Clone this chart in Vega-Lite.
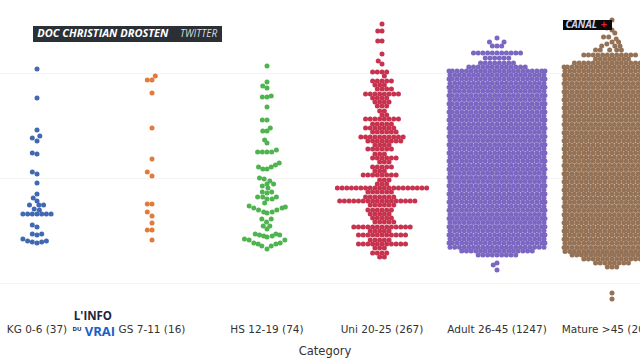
{
"$schema":"https://vega.github.io/schema/vega-lite/v6.json",
"width":640,"height":316,
"autosize":{"type":"none"},
"padding":{"left":0,"top":0,"right":0,"bottom":44},
"background":"white",
"config":{"view":{"stroke":null}},
"layer":[
{
"data":{"values":[
{"cat":"KG 0-6 (37)","v":8.076,"j":[0]},
{"cat":"KG 0-6 (37)","v":7.524,"j":[0]},
{"cat":"KG 0-6 (37)","v":6.914,"j":[0]},
{"cat":"KG 0-6 (37)","v":6.800,"j":[0.6]},
{"cat":"KG 0-6 (37)","v":6.762,"j":[-1]},
{"cat":"KG 0-6 (37)","v":6.705,"j":[0]},
{"cat":"KG 0-6 (37)","v":6.476,"j":[-1]},
{"cat":"KG 0-6 (37)","v":6.457,"j":[0]},
{"cat":"KG 0-6 (37)","v":6.114,"j":[-1]},
{"cat":"KG 0-6 (37)","v":6.076,"j":[0]},
{"cat":"KG 0-6 (37)","v":5.905,"j":[0]},
{"cat":"KG 0-6 (37)","v":5.695,"j":[0]},
{"cat":"KG 0-6 (37)","v":5.619,"j":[-0.8]},
{"cat":"KG 0-6 (37)","v":5.562,"j":[0]},
{"cat":"KG 0-6 (37)","v":5.486,"j":[-1.6,0.4,1.4]},
{"cat":"KG 0-6 (37)","v":5.410,"j":[-0.6]},
{"cat":"KG 0-6 (37)","v":5.390,"j":[0.5]},
{"cat":"KG 0-6 (37)","v":5.314,"j":[-3,-2,-1,0,1,2,3]},
{"cat":"KG 0-6 (37)","v":5.105,"j":[-1]},
{"cat":"KG 0-6 (37)","v":5.067,"j":[0]},
{"cat":"KG 0-6 (37)","v":4.933,"j":[-1,1]},
{"cat":"KG 0-6 (37)","v":4.914,"j":[0]},
{"cat":"KG 0-6 (37)","v":4.838,"j":[-3]},
{"cat":"KG 0-6 (37)","v":4.800,"j":[-2,2]},
{"cat":"KG 0-6 (37)","v":4.781,"j":[-1,1]},
{"cat":"KG 0-6 (37)","v":4.762,"j":[0]},
{"cat":"GS 7-11 (16)","v":7.943,"j":[0.7]},
{"cat":"GS 7-11 (16)","v":7.867,"j":[-1,0]},
{"cat":"GS 7-11 (16)","v":7.619,"j":[0]},
{"cat":"GS 7-11 (16)","v":6.952,"j":[0]},
{"cat":"GS 7-11 (16)","v":6.362,"j":[0]},
{"cat":"GS 7-11 (16)","v":6.114,"j":[-1]},
{"cat":"GS 7-11 (16)","v":6.038,"j":[0]},
{"cat":"GS 7-11 (16)","v":5.505,"j":[-1,0]},
{"cat":"GS 7-11 (16)","v":5.352,"j":[-1]},
{"cat":"GS 7-11 (16)","v":5.276,"j":[0]},
{"cat":"GS 7-11 (16)","v":5.143,"j":[0]},
{"cat":"GS 7-11 (16)","v":5.010,"j":[-1,0]},
{"cat":"GS 7-11 (16)","v":4.819,"j":[0]},
{"cat":"HS 12-19 (74)","v":8.133,"j":[0]},
{"cat":"HS 12-19 (74)","v":7.829,"j":[0]},
{"cat":"HS 12-19 (74)","v":7.752,"j":[-0.9]},
{"cat":"HS 12-19 (74)","v":7.714,"j":[0]},
{"cat":"HS 12-19 (74)","v":7.562,"j":[0.9]},
{"cat":"HS 12-19 (74)","v":7.543,"j":[-1,0]},
{"cat":"HS 12-19 (74)","v":7.352,"j":[0]},
{"cat":"HS 12-19 (74)","v":7.105,"j":[-1,0]},
{"cat":"HS 12-19 (74)","v":6.952,"j":[0.7]},
{"cat":"HS 12-19 (74)","v":6.895,"j":[-0.9,0]},
{"cat":"HS 12-19 (74)","v":6.724,"j":[-0.5]},
{"cat":"HS 12-19 (74)","v":6.667,"j":[0]},
{"cat":"HS 12-19 (74)","v":6.533,"j":[2]},
{"cat":"HS 12-19 (74)","v":6.495,"j":[-2,-1,0,1]},
{"cat":"HS 12-19 (74)","v":6.286,"j":[2.6]},
{"cat":"HS 12-19 (74)","v":6.248,"j":[1.8]},
{"cat":"HS 12-19 (74)","v":6.210,"j":[-1.8,0.9]},
{"cat":"HS 12-19 (74)","v":6.171,"j":[-0.9,0]},
{"cat":"HS 12-19 (74)","v":6.000,"j":[-1.6]},
{"cat":"HS 12-19 (74)","v":5.981,"j":[-0.6]},
{"cat":"HS 12-19 (74)","v":5.943,"j":[0.6]},
{"cat":"HS 12-19 (74)","v":5.886,"j":[0,1.4]},
{"cat":"HS 12-19 (74)","v":5.848,"j":[-1]},
{"cat":"HS 12-19 (74)","v":5.810,"j":[0.2]},
{"cat":"HS 12-19 (74)","v":5.733,"j":[-1,1]},
{"cat":"HS 12-19 (74)","v":5.714,"j":[0]},
{"cat":"HS 12-19 (74)","v":5.638,"j":[-2,-0.9,2]},
{"cat":"HS 12-19 (74)","v":5.600,"j":[0,1.1]},
{"cat":"HS 12-19 (74)","v":5.524,"j":[-0.5]},
{"cat":"HS 12-19 (74)","v":5.467,"j":[-3.8]},
{"cat":"HS 12-19 (74)","v":5.448,"j":[3.9]},
{"cat":"HS 12-19 (74)","v":5.429,"j":[-2.8,3.2]},
{"cat":"HS 12-19 (74)","v":5.390,"j":[-1.8,2.1]},
{"cat":"HS 12-19 (74)","v":5.352,"j":[-0.7,1.1]},
{"cat":"HS 12-19 (74)","v":5.333,"j":[0]},
{"cat":"HS 12-19 (74)","v":5.219,"j":[-1.1,0.9]},
{"cat":"HS 12-19 (74)","v":5.162,"j":[-0.1]},
{"cat":"HS 12-19 (74)","v":5.086,"j":[-0.8,0.6]},
{"cat":"HS 12-19 (74)","v":5.029,"j":[0]},
{"cat":"HS 12-19 (74)","v":4.933,"j":[-2.5,1.9]},
{"cat":"HS 12-19 (74)","v":4.914,"j":[-1.6,2.7]},
{"cat":"HS 12-19 (74)","v":4.895,"j":[-0.7,1.1]},
{"cat":"HS 12-19 (74)","v":4.876,"j":[0]},
{"cat":"HS 12-19 (74)","v":4.838,"j":[-4.8]},
{"cat":"HS 12-19 (74)","v":4.819,"j":[-3.8,3.8]},
{"cat":"HS 12-19 (74)","v":4.762,"j":[-2.8,2.8]},
{"cat":"HS 12-19 (74)","v":4.743,"j":[-1.9,1.9]},
{"cat":"HS 12-19 (74)","v":4.705,"j":[-1.1,0.9]},
{"cat":"HS 12-19 (74)","v":4.648,"j":[0]},
{"cat":"Uni 20-25 (267)","v":8.933,"j":[0]},
{"cat":"Uni 20-25 (267)","v":8.800,"j":[-0.9,0]},
{"cat":"Uni 20-25 (267)","v":8.610,"j":[-0.9,0]},
{"cat":"Uni 20-25 (267)","v":8.362,"j":[0]},
{"cat":"Uni 20-25 (267)","v":8.229,"j":[-0.8]},
{"cat":"Uni 20-25 (267)","v":8.171,"j":[0]},
{"cat":"Uni 20-25 (267)","v":8.019,"j":[-2,-1,0,1]},
{"cat":"Uni 20-25 (267)","v":7.943,"j":[0.5]},
{"cat":"Uni 20-25 (267)","v":7.848,"j":[-2,-1,0,1,2]},
{"cat":"Uni 20-25 (267)","v":7.771,"j":[-1.5,-0.5,0.5]},
{"cat":"Uni 20-25 (267)","v":7.695,"j":[-1,0,1,2]},
{"cat":"Uni 20-25 (267)","v":7.600,"j":[-3.5,-2.5,-1.5,-0.5,0.5,1.5,2.5,3.5]},
{"cat":"Uni 20-25 (267)","v":7.524,"j":[-2,-1,0,1]},
{"cat":"Uni 20-25 (267)","v":7.448,"j":[-1.5,-0.5,0.5,1.5]},
{"cat":"Uni 20-25 (267)","v":7.371,"j":[-1,0,1]},
{"cat":"Uni 20-25 (267)","v":7.276,"j":[-0.5,0.5]},
{"cat":"Uni 20-25 (267)","v":7.200,"j":[0,1]},
{"cat":"Uni 20-25 (267)","v":7.124,"j":[-3.5,-2.5,-1.5,-0.5,0.5,1.5,2.5,3.5]},
{"cat":"Uni 20-25 (267)","v":7.029,"j":[-2,-1,0,1,2]},
{"cat":"Uni 20-25 (267)","v":6.952,"j":[-3.5,-2.5,-1.5,-0.5,0.5,1.5,2.5]},
{"cat":"Uni 20-25 (267)","v":6.876,"j":[-2,-1,0,1,2,3]},
{"cat":"Uni 20-25 (267)","v":6.781,"j":[-4.5,-3.5,-2.5,-1.5,-0.5,0.5,1.5,2.5,3.5,4.5]},
{"cat":"Uni 20-25 (267)","v":6.705,"j":[-3,-2,-1,0,1,2,3,4]},
{"cat":"Uni 20-25 (267)","v":6.629,"j":[-1.5,-0.5,0.5,1.5]},
{"cat":"Uni 20-25 (267)","v":6.552,"j":[-3,-2,-1,0,1,2]},
{"cat":"Uni 20-25 (267)","v":6.457,"j":[-1.5,-0.5,0.5]},
{"cat":"Uni 20-25 (267)","v":6.381,"j":[-2,-1,0,1,2,3]},
{"cat":"Uni 20-25 (267)","v":6.305,"j":[-0.5,0.5,1.5]},
{"cat":"Uni 20-25 (267)","v":6.210,"j":[-2,-1,0,1,2]},
{"cat":"Uni 20-25 (267)","v":6.133,"j":[-1.5,-0.5,0.5]},
{"cat":"Uni 20-25 (267)","v":6.057,"j":[-4,-3,-2,-1,0,1,2,3]},
{"cat":"Uni 20-25 (267)","v":5.962,"j":[-0.5,0.5,1.5]},
{"cat":"Uni 20-25 (267)","v":5.886,"j":[-1,0,1]},
{"cat":"Uni 20-25 (267)","v":5.810,"j":[-9.5,-8.5,-7.5,-6.5,-5.5,-4.5,-3.5,-2.5,-1.5,-0.5,0.5,1.5,2.5,3.5,4.5,5.5,6.5,7.5,8.5,9.5]},
{"cat":"Uni 20-25 (267)","v":5.733,"j":[-3,-2,-1,0,1,2]},
{"cat":"Uni 20-25 (267)","v":5.638,"j":[-3.5,-2.5,-1.5,-0.5,0.5,1.5,2.5]},
{"cat":"Uni 20-25 (267)","v":5.562,"j":[-9,-8,-7,-6,-5,-4,-3,-2,-1,0,1,2,3,4,5,6,7]},
{"cat":"Uni 20-25 (267)","v":5.486,"j":[-2.5,-1.5,-0.5,0.5,1.5,2.5]},
{"cat":"Uni 20-25 (267)","v":5.390,"j":[-3,-2,-1,0,1,2]},
{"cat":"Uni 20-25 (267)","v":5.314,"j":[-2.5,-1.5,-0.5,0.5,1.5]},
{"cat":"Uni 20-25 (267)","v":5.238,"j":[-2,-1,0,1,2]},
{"cat":"Uni 20-25 (267)","v":5.162,"j":[-1.5,-0.5,0.5,1.5,2.5]},
{"cat":"Uni 20-25 (267)","v":5.067,"j":[-6,-5,-4,-3,-2,-1,0,1,2,3,4,5,6]},
{"cat":"Uni 20-25 (267)","v":4.990,"j":[-2.5,-1.5,-0.5,0.5,1.5]},
{"cat":"Uni 20-25 (267)","v":4.914,"j":[-5,-4,-3,-2,-1,0,1,2,3,4,5]},
{"cat":"Uni 20-25 (267)","v":4.819,"j":[-2.5,-1.5,-0.5,0.5,1.5]},
{"cat":"Uni 20-25 (267)","v":4.743,"j":[-5,-4,-3,-2,-1,0,1,2,3,4,5]},
{"cat":"Uni 20-25 (267)","v":4.667,"j":[-1.5,-0.5,0.5]},
{"cat":"Uni 20-25 (267)","v":4.571,"j":[-2,-1,0,1]},
{"cat":"Uni 20-25 (267)","v":4.495,"j":[-0.5,0.5]},
{"cat":"Adult 26-45 (1247)","v":8.667,"j":[0]},
{"cat":"Adult 26-45 (1247)","v":8.590,"j":[-1.6,1.5]},
{"cat":"Adult 26-45 (1247)","v":8.514,"j":[-1,0,1]},
{"cat":"Adult 26-45 (1247)","v":8.381,"j":[-5,-4,-3,-2,-1,0,1,2,3,4,5]},
{"cat":"Adult 26-45 (1247)","v":8.286,"j":[-2.5,-1.5,-0.5,0.5,1.5,2.5]},
{"cat":"Adult 26-45 (1247)","v":8.190,"j":[-3.5,-2.5,-1.5,-0.5,0.5,1.5,2.5,3.5]},
{"cat":"Adult 26-45 (1247)","v":8.114,"j":[-6,-5,-4,-3,-2,-1,0,1,2,3,4,5,6]},
{"cat":"Adult 26-45 (1247)","v":8.038,"j":[-10.2,-9.5,-8.5,-7.5,-6.5,-5.5,-4.5,-3.5,-2.5,-1.5,-0.5,0.5,1.5,2.5,3.5,4.5,5.5,6.5,7.5,8.5,9.5,10.2]},
{"cat":"Adult 26-45 (1247)","v":7.962,"j":[-10,-9,-8,-7,-6,-5,-4,-3,-2,-1,0,1,2,3,4,5,6,7,8,9,10]},
{"cat":"Adult 26-45 (1247)","v":7.884,"j":[-10.2,-9.5,-8.5,-7.5,-6.5,-5.5,-4.5,-3.5,-2.5,-1.5,-0.5,0.5,1.5,2.5,3.5,4.5,5.5,6.5,7.5,8.5,9.5,10.2]},
{"cat":"Adult 26-45 (1247)","v":7.806,"j":[-10,-9,-8,-7,-6,-5,-4,-3,-2,-1,0,1,2,3,4,5,6,7,8,9,10]},
{"cat":"Adult 26-45 (1247)","v":7.728,"j":[-10.2,-9.5,-8.5,-7.5,-6.5,-5.5,-4.5,-3.5,-2.5,-1.5,-0.5,0.5,1.5,2.5,3.5,4.5,5.5,6.5,7.5,8.5,9.5,10.2]},
{"cat":"Adult 26-45 (1247)","v":7.650,"j":[-10,-9,-8,-7,-6,-5,-4,-3,-2,-1,0,1,2,3,4,5,6,7,8,9,10]},
{"cat":"Adult 26-45 (1247)","v":7.572,"j":[-10.2,-9.5,-8.5,-7.5,-6.5,-5.5,-4.5,-3.5,-2.5,-1.5,-0.5,0.5,1.5,2.5,3.5,4.5,5.5,6.5,7.5,8.5,9.5,10.2]},
{"cat":"Adult 26-45 (1247)","v":7.493,"j":[-10,-9,-8,-7,-6,-5,-4,-3,-2,-1,0,1,2,3,4,5,6,7,8,9,10]},
{"cat":"Adult 26-45 (1247)","v":7.415,"j":[-10.2,-9.5,-8.5,-7.5,-6.5,-5.5,-4.5,-3.5,-2.5,-1.5,-0.5,0.5,1.5,2.5,3.5,4.5,5.5,6.5,7.5,8.5,9.5,10.2]},
{"cat":"Adult 26-45 (1247)","v":7.337,"j":[-10,-9,-8,-7,-6,-5,-4,-3,-2,-1,0,1,2,3,4,5,6,7,8,9,10]},
{"cat":"Adult 26-45 (1247)","v":7.259,"j":[-10.2,-9.5,-8.5,-7.5,-6.5,-5.5,-4.5,-3.5,-2.5,-1.5,-0.5,0.5,1.5,2.5,3.5,4.5,5.5,6.5,7.5,8.5,9.5,10.2]},
{"cat":"Adult 26-45 (1247)","v":7.181,"j":[-10,-9,-8,-7,-6,-5,-4,-3,-2,-1,0,1,2,3,4,5,6,7,8,9,10]},
{"cat":"Adult 26-45 (1247)","v":7.103,"j":[-10.2,-9.5,-8.5,-7.5,-6.5,-5.5,-4.5,-3.5,-2.5,-1.5,-0.5,0.5,1.5,2.5,3.5,4.5,5.5,6.5,7.5,8.5,9.5,10.2]},
{"cat":"Adult 26-45 (1247)","v":7.025,"j":[-10,-9,-8,-7,-6,-5,-4,-3,-2,-1,0,1,2,3,4,5,6,7,8,9,10]},
{"cat":"Adult 26-45 (1247)","v":6.947,"j":[-10.2,-9.5,-8.5,-7.5,-6.5,-5.5,-4.5,-3.5,-2.5,-1.5,-0.5,0.5,1.5,2.5,3.5,4.5,5.5,6.5,7.5,8.5,9.5,10.2]},
{"cat":"Adult 26-45 (1247)","v":6.869,"j":[-10,-9,-8,-7,-6,-5,-4,-3,-2,-1,0,1,2,3,4,5,6,7,8,9,10]},
{"cat":"Adult 26-45 (1247)","v":6.790,"j":[-10.2,-9.5,-8.5,-7.5,-6.5,-5.5,-4.5,-3.5,-2.5,-1.5,-0.5,0.5,1.5,2.5,3.5,4.5,5.5,6.5,7.5,8.5,9.5,10.2]},
{"cat":"Adult 26-45 (1247)","v":6.712,"j":[-10,-9,-8,-7,-6,-5,-4,-3,-2,-1,0,1,2,3,4,5,6,7,8,9,10]},
{"cat":"Adult 26-45 (1247)","v":6.634,"j":[-10.2,-9.5,-8.5,-7.5,-6.5,-5.5,-4.5,-3.5,-2.5,-1.5,-0.5,0.5,1.5,2.5,3.5,4.5,5.5,6.5,7.5,8.5,9.5,10.2]},
{"cat":"Adult 26-45 (1247)","v":6.556,"j":[-10,-9,-8,-7,-6,-5,-4,-3,-2,-1,0,1,2,3,4,5,6,7,8,9,10]},
{"cat":"Adult 26-45 (1247)","v":6.478,"j":[-10.2,-9.5,-8.5,-7.5,-6.5,-5.5,-4.5,-3.5,-2.5,-1.5,-0.5,0.5,1.5,2.5,3.5,4.5,5.5,6.5,7.5,8.5,9.5,10.2]},
{"cat":"Adult 26-45 (1247)","v":6.400,"j":[-10,-9,-8,-7,-6,-5,-4,-3,-2,-1,0,1,2,3,4,5,6,7,8,9,10]},
{"cat":"Adult 26-45 (1247)","v":6.322,"j":[-10.2,-9.5,-8.5,-7.5,-6.5,-5.5,-4.5,-3.5,-2.5,-1.5,-0.5,0.5,1.5,2.5,3.5,4.5,5.5,6.5,7.5,8.5,9.5,10.2]},
{"cat":"Adult 26-45 (1247)","v":6.244,"j":[-10,-9,-8,-7,-6,-5,-4,-3,-2,-1,0,1,2,3,4,5,6,7,8,9,10]},
{"cat":"Adult 26-45 (1247)","v":6.166,"j":[-10.2,-9.5,-8.5,-7.5,-6.5,-5.5,-4.5,-3.5,-2.5,-1.5,-0.5,0.5,1.5,2.5,3.5,4.5,5.5,6.5,7.5,8.5,9.5,10.2]},
{"cat":"Adult 26-45 (1247)","v":6.088,"j":[-10,-9,-8,-7,-6,-5,-4,-3,-2,-1,0,1,2,3,4,5,6,7,8,9,10]},
{"cat":"Adult 26-45 (1247)","v":6.009,"j":[-10.2,-9.5,-8.5,-7.5,-6.5,-5.5,-4.5,-3.5,-2.5,-1.5,-0.5,0.5,1.5,2.5,3.5,4.5,5.5,6.5,7.5,8.5,9.5,10.2]},
{"cat":"Adult 26-45 (1247)","v":5.931,"j":[-10,-9,-8,-7,-6,-5,-4,-3,-2,-1,0,1,2,3,4,5,6,7,8,9,10]},
{"cat":"Adult 26-45 (1247)","v":5.853,"j":[-10.2,-9.5,-8.5,-7.5,-6.5,-5.5,-4.5,-3.5,-2.5,-1.5,-0.5,0.5,1.5,2.5,3.5,4.5,5.5,6.5,7.5,8.5,9.5,10.2]},
{"cat":"Adult 26-45 (1247)","v":5.775,"j":[-10,-9,-8,-7,-6,-5,-4,-3,-2,-1,0,1,2,3,4,5,6,7,8,9,10]},
{"cat":"Adult 26-45 (1247)","v":5.697,"j":[-10.2,-9.5,-8.5,-7.5,-6.5,-5.5,-4.5,-3.5,-2.5,-1.5,-0.5,0.5,1.5,2.5,3.5,4.5,5.5,6.5,7.5,8.5,9.5,10.2]},
{"cat":"Adult 26-45 (1247)","v":5.619,"j":[-10,-9,-8,-7,-6,-5,-4,-3,-2,-1,0,1,2,3,4,5,6,7,8,9,10]},
{"cat":"Adult 26-45 (1247)","v":5.541,"j":[-10.2,-9.5,-8.5,-7.5,-6.5,-5.5,-4.5,-3.5,-2.5,-1.5,-0.5,0.5,1.5,2.5,3.5,4.5,5.5,6.5,7.5,8.5,9.5,10.2]},
{"cat":"Adult 26-45 (1247)","v":5.463,"j":[-10,-9,-8,-7,-6,-5,-4,-3,-2,-1,0,1,2,3,4,5,6,7,8,9,10]},
{"cat":"Adult 26-45 (1247)","v":5.385,"j":[-10.2,-9.5,-8.5,-7.5,-6.5,-5.5,-4.5,-3.5,-2.5,-1.5,-0.5,0.5,1.5,2.5,3.5,4.5,5.5,6.5,7.5,8.5,9.5,10.2]},
{"cat":"Adult 26-45 (1247)","v":5.306,"j":[-10,-9,-8,-7,-6,-5,-4,-3,-2,-1,0,1,2,3,4,5,6,7,8,9,10]},
{"cat":"Adult 26-45 (1247)","v":5.228,"j":[-10.2,-9.5,-8.5,-7.5,-6.5,-5.5,-4.5,-3.5,-2.5,-1.5,-0.5,0.5,1.5,2.5,3.5,4.5,5.5,6.5,7.5,8.5,9.5,10.2]},
{"cat":"Adult 26-45 (1247)","v":5.150,"j":[-10,-9,-8,-7,-6,-5,-4,-3,-2,-1,0,1,2,3,4,5,6,7,8,9,10]},
{"cat":"Adult 26-45 (1247)","v":5.072,"j":[-10.2,-9.5,-8.5,-7.5,-6.5,-5.5,-4.5,-3.5,-2.5,-1.5,-0.5,0.5,1.5,2.5,3.5,4.5,5.5,6.5,7.5,8.5,9.5,10.2]},
{"cat":"Adult 26-45 (1247)","v":4.994,"j":[-10,-9,-8,-7,-6,-5,-4,-3,-2,-1,0,1,2,3,4,5,6,7,8,9,10]},
{"cat":"Adult 26-45 (1247)","v":4.916,"j":[-10.2,-9.5,-8.5,-7.5,-6.5,-5.5,-4.5,-3.5,-2.5,-1.5,-0.5,0.5,1.5,2.5,3.5,4.5,5.5,6.5,7.5,8.5,9.5,10.2]},
{"cat":"Adult 26-45 (1247)","v":4.838,"j":[-10,-9,-8,-7,-6,-5,-4,-3,-2,-1,0,1,2,3,4,5,6,7,8,9,10]},
{"cat":"Adult 26-45 (1247)","v":4.760,"j":[-10.2,-9.5,-8.5,-7.5,-6.5,-5.5,-4.5,-3.5,-2.5,-1.5,-0.5,0.5,1.5,2.5,3.5,4.5,5.5,6.5,7.5,8.5,9.5,10.2]},
{"cat":"Adult 26-45 (1247)","v":4.682,"j":[-10,-9,-8,-7,-6,-5,-4,-3,-2,-1,0,1,2,3,4,5,6,7,8,9,10]},
{"cat":"Adult 26-45 (1247)","v":4.610,"j":[-7.5,-6.5,-5.5,-4.5,-3.5,-2.5,-1.5,-0.5,0.5,1.5,2.5,3.5,4.5,5.5,6.5,7.5]},
{"cat":"Adult 26-45 (1247)","v":4.533,"j":[-4,-3,-2,-1,0,1,2,3,4]},
{"cat":"Adult 26-45 (1247)","v":4.381,"j":[0]},
{"cat":"Adult 26-45 (1247)","v":4.343,"j":[-0.8]},
{"cat":"Adult 26-45 (1247)","v":4.248,"j":[0]},
{"cat":"Mature >45 (2071)","v":9.010,"j":[0]},
{"cat":"Mature >45 (2071)","v":8.857,"j":[-1.1]},
{"cat":"Mature >45 (2071)","v":8.819,"j":[0]},
{"cat":"Mature >45 (2071)","v":8.762,"j":[0.6]},
{"cat":"Mature >45 (2071)","v":8.686,"j":[-1.8,-0.7]},
{"cat":"Mature >45 (2071)","v":8.648,"j":[0.9]},
{"cat":"Mature >45 (2071)","v":8.590,"j":[0,1.4]},
{"cat":"Mature >45 (2071)","v":8.552,"j":[-1.1]},
{"cat":"Mature >45 (2071)","v":8.514,"j":[-2.2,0.6,1.7]},
{"cat":"Mature >45 (2071)","v":8.438,"j":[-3.5,-2.5,-0.5,1,2]},
{"cat":"Mature >45 (2071)","v":8.343,"j":[-6,-5,-4,-3,-2,-1,0,1,2,3,4,5]},
{"cat":"Mature >45 (2071)","v":8.267,"j":[-3.5,-2.5,-1.5,-0.5,0.5,1.5,2.5,3.5]},
{"cat":"Mature >45 (2071)","v":8.190,"j":[-8,-7,-6,-5,-4,-3,-2,-1,0,1,2,3,4,5,6,7,8]},
{"cat":"Mature >45 (2071)","v":8.114,"j":[-10.2,-9.5,-8.5,-7.5,-6.5,-5.5,-4.5,-3.5,-2.5,-1.5,-0.5,0.5,1.5,2.5,3.5,4.5,5.5,6.5,7.5,8.5,9.5,10.2]},
{"cat":"Mature >45 (2071)","v":8.036,"j":[-10,-9,-8,-7,-6,-5,-4,-3,-2,-1,0,1,2,3,4,5,6,7,8,9,10]},
{"cat":"Mature >45 (2071)","v":7.958,"j":[-10.2,-9.5,-8.5,-7.5,-6.5,-5.5,-4.5,-3.5,-2.5,-1.5,-0.5,0.5,1.5,2.5,3.5,4.5,5.5,6.5,7.5,8.5,9.5,10.2]},
{"cat":"Mature >45 (2071)","v":7.880,"j":[-10,-9,-8,-7,-6,-5,-4,-3,-2,-1,0,1,2,3,4,5,6,7,8,9,10]},
{"cat":"Mature >45 (2071)","v":7.802,"j":[-10.2,-9.5,-8.5,-7.5,-6.5,-5.5,-4.5,-3.5,-2.5,-1.5,-0.5,0.5,1.5,2.5,3.5,4.5,5.5,6.5,7.5,8.5,9.5,10.2]},
{"cat":"Mature >45 (2071)","v":7.724,"j":[-10,-9,-8,-7,-6,-5,-4,-3,-2,-1,0,1,2,3,4,5,6,7,8,9,10]},
{"cat":"Mature >45 (2071)","v":7.645,"j":[-10.2,-9.5,-8.5,-7.5,-6.5,-5.5,-4.5,-3.5,-2.5,-1.5,-0.5,0.5,1.5,2.5,3.5,4.5,5.5,6.5,7.5,8.5,9.5,10.2]},
{"cat":"Mature >45 (2071)","v":7.567,"j":[-10,-9,-8,-7,-6,-5,-4,-3,-2,-1,0,1,2,3,4,5,6,7,8,9,10]},
{"cat":"Mature >45 (2071)","v":7.489,"j":[-10.2,-9.5,-8.5,-7.5,-6.5,-5.5,-4.5,-3.5,-2.5,-1.5,-0.5,0.5,1.5,2.5,3.5,4.5,5.5,6.5,7.5,8.5,9.5,10.2]},
{"cat":"Mature >45 (2071)","v":7.411,"j":[-10,-9,-8,-7,-6,-5,-4,-3,-2,-1,0,1,2,3,4,5,6,7,8,9,10]},
{"cat":"Mature >45 (2071)","v":7.333,"j":[-10.2,-9.5,-8.5,-7.5,-6.5,-5.5,-4.5,-3.5,-2.5,-1.5,-0.5,0.5,1.5,2.5,3.5,4.5,5.5,6.5,7.5,8.5,9.5,10.2]},
{"cat":"Mature >45 (2071)","v":7.255,"j":[-10,-9,-8,-7,-6,-5,-4,-3,-2,-1,0,1,2,3,4,5,6,7,8,9,10]},
{"cat":"Mature >45 (2071)","v":7.177,"j":[-10.2,-9.5,-8.5,-7.5,-6.5,-5.5,-4.5,-3.5,-2.5,-1.5,-0.5,0.5,1.5,2.5,3.5,4.5,5.5,6.5,7.5,8.5,9.5,10.2]},
{"cat":"Mature >45 (2071)","v":7.099,"j":[-10,-9,-8,-7,-6,-5,-4,-3,-2,-1,0,1,2,3,4,5,6,7,8,9,10]},
{"cat":"Mature >45 (2071)","v":7.021,"j":[-10.2,-9.5,-8.5,-7.5,-6.5,-5.5,-4.5,-3.5,-2.5,-1.5,-0.5,0.5,1.5,2.5,3.5,4.5,5.5,6.5,7.5,8.5,9.5,10.2]},
{"cat":"Mature >45 (2071)","v":6.942,"j":[-10,-9,-8,-7,-6,-5,-4,-3,-2,-1,0,1,2,3,4,5,6,7,8,9,10]},
{"cat":"Mature >45 (2071)","v":6.864,"j":[-10.2,-9.5,-8.5,-7.5,-6.5,-5.5,-4.5,-3.5,-2.5,-1.5,-0.5,0.5,1.5,2.5,3.5,4.5,5.5,6.5,7.5,8.5,9.5,10.2]},
{"cat":"Mature >45 (2071)","v":6.786,"j":[-10,-9,-8,-7,-6,-5,-4,-3,-2,-1,0,1,2,3,4,5,6,7,8,9,10]},
{"cat":"Mature >45 (2071)","v":6.708,"j":[-10.2,-9.5,-8.5,-7.5,-6.5,-5.5,-4.5,-3.5,-2.5,-1.5,-0.5,0.5,1.5,2.5,3.5,4.5,5.5,6.5,7.5,8.5,9.5,10.2]},
{"cat":"Mature >45 (2071)","v":6.630,"j":[-10,-9,-8,-7,-6,-5,-4,-3,-2,-1,0,1,2,3,4,5,6,7,8,9,10]},
{"cat":"Mature >45 (2071)","v":6.552,"j":[-10.2,-9.5,-8.5,-7.5,-6.5,-5.5,-4.5,-3.5,-2.5,-1.5,-0.5,0.5,1.5,2.5,3.5,4.5,5.5,6.5,7.5,8.5,9.5,10.2]},
{"cat":"Mature >45 (2071)","v":6.474,"j":[-10,-9,-8,-7,-6,-5,-4,-3,-2,-1,0,1,2,3,4,5,6,7,8,9,10]},
{"cat":"Mature >45 (2071)","v":6.396,"j":[-10.2,-9.5,-8.5,-7.5,-6.5,-5.5,-4.5,-3.5,-2.5,-1.5,-0.5,0.5,1.5,2.5,3.5,4.5,5.5,6.5,7.5,8.5,9.5,10.2]},
{"cat":"Mature >45 (2071)","v":6.318,"j":[-10,-9,-8,-7,-6,-5,-4,-3,-2,-1,0,1,2,3,4,5,6,7,8,9,10]},
{"cat":"Mature >45 (2071)","v":6.240,"j":[-10.2,-9.5,-8.5,-7.5,-6.5,-5.5,-4.5,-3.5,-2.5,-1.5,-0.5,0.5,1.5,2.5,3.5,4.5,5.5,6.5,7.5,8.5,9.5,10.2]},
{"cat":"Mature >45 (2071)","v":6.161,"j":[-10,-9,-8,-7,-6,-5,-4,-3,-2,-1,0,1,2,3,4,5,6,7,8,9,10]},
{"cat":"Mature >45 (2071)","v":6.083,"j":[-10.2,-9.5,-8.5,-7.5,-6.5,-5.5,-4.5,-3.5,-2.5,-1.5,-0.5,0.5,1.5,2.5,3.5,4.5,5.5,6.5,7.5,8.5,9.5,10.2]},
{"cat":"Mature >45 (2071)","v":6.005,"j":[-10,-9,-8,-7,-6,-5,-4,-3,-2,-1,0,1,2,3,4,5,6,7,8,9,10]},
{"cat":"Mature >45 (2071)","v":5.927,"j":[-10.2,-9.5,-8.5,-7.5,-6.5,-5.5,-4.5,-3.5,-2.5,-1.5,-0.5,0.5,1.5,2.5,3.5,4.5,5.5,6.5,7.5,8.5,9.5,10.2]},
{"cat":"Mature >45 (2071)","v":5.849,"j":[-10,-9,-8,-7,-6,-5,-4,-3,-2,-1,0,1,2,3,4,5,6,7,8,9,10]},
{"cat":"Mature >45 (2071)","v":5.771,"j":[-10.2,-9.5,-8.5,-7.5,-6.5,-5.5,-4.5,-3.5,-2.5,-1.5,-0.5,0.5,1.5,2.5,3.5,4.5,5.5,6.5,7.5,8.5,9.5,10.2]},
{"cat":"Mature >45 (2071)","v":5.693,"j":[-10,-9,-8,-7,-6,-5,-4,-3,-2,-1,0,1,2,3,4,5,6,7,8,9,10]},
{"cat":"Mature >45 (2071)","v":5.615,"j":[-10.2,-9.5,-8.5,-7.5,-6.5,-5.5,-4.5,-3.5,-2.5,-1.5,-0.5,0.5,1.5,2.5,3.5,4.5,5.5,6.5,7.5,8.5,9.5,10.2]},
{"cat":"Mature >45 (2071)","v":5.537,"j":[-10,-9,-8,-7,-6,-5,-4,-3,-2,-1,0,1,2,3,4,5,6,7,8,9,10]},
{"cat":"Mature >45 (2071)","v":5.459,"j":[-10.2,-9.5,-8.5,-7.5,-6.5,-5.5,-4.5,-3.5,-2.5,-1.5,-0.5,0.5,1.5,2.5,3.5,4.5,5.5,6.5,7.5,8.5,9.5,10.2]},
{"cat":"Mature >45 (2071)","v":5.380,"j":[-10,-9,-8,-7,-6,-5,-4,-3,-2,-1,0,1,2,3,4,5,6,7,8,9,10]},
{"cat":"Mature >45 (2071)","v":5.302,"j":[-10.2,-9.5,-8.5,-7.5,-6.5,-5.5,-4.5,-3.5,-2.5,-1.5,-0.5,0.5,1.5,2.5,3.5,4.5,5.5,6.5,7.5,8.5,9.5,10.2]},
{"cat":"Mature >45 (2071)","v":5.224,"j":[-10,-9,-8,-7,-6,-5,-4,-3,-2,-1,0,1,2,3,4,5,6,7,8,9,10]},
{"cat":"Mature >45 (2071)","v":5.146,"j":[-10.2,-9.5,-8.5,-7.5,-6.5,-5.5,-4.5,-3.5,-2.5,-1.5,-0.5,0.5,1.5,2.5,3.5,4.5,5.5,6.5,7.5,8.5,9.5,10.2]},
{"cat":"Mature >45 (2071)","v":5.068,"j":[-10,-9,-8,-7,-6,-5,-4,-3,-2,-1,0,1,2,3,4,5,6,7,8,9,10]},
{"cat":"Mature >45 (2071)","v":4.990,"j":[-10.2,-9.5,-8.5,-7.5,-6.5,-5.5,-4.5,-3.5,-2.5,-1.5,-0.5,0.5,1.5,2.5,3.5,4.5,5.5,6.5,7.5,8.5,9.5,10.2]},
{"cat":"Mature >45 (2071)","v":4.912,"j":[-10,-9,-8,-7,-6,-5,-4,-3,-2,-1,0,1,2,3,4,5,6,7,8,9,10]},
{"cat":"Mature >45 (2071)","v":4.834,"j":[-10.2,-9.5,-8.5,-7.5,-6.5,-5.5,-4.5,-3.5,-2.5,-1.5,-0.5,0.5,1.5,2.5,3.5,4.5,5.5,6.5,7.5,8.5,9.5,10.2]},
{"cat":"Mature >45 (2071)","v":4.756,"j":[-10,-9,-8,-7,-6,-5,-4,-3,-2,-1,0,1,2,3,4,5,6,7,8,9,10]},
{"cat":"Mature >45 (2071)","v":4.677,"j":[-10.2,-9.5,-8.5,-7.5,-6.5,-5.5,-4.5,-3.5,-2.5,-1.5,-0.5,0.5,1.5,2.5,3.5,4.5,5.5,6.5,7.5,8.5,9.5,10.2]},
{"cat":"Mature >45 (2071)","v":4.599,"j":[-10,-9,-8,-7,-6,-5,-4,-3,-2,-1,0,1,2,3,4,5,6,7,8,9,10]},
{"cat":"Mature >45 (2071)","v":4.533,"j":[-8.5,-7.5,-6.5,-5.5,-4.5,-3.5,-2.5,-1.5,-0.5,0.5,1.5,2.5,3.5,4.5,5.5,6.5,7.5,8.5]},
{"cat":"Mature >45 (2071)","v":4.457,"j":[-6,-5,-4,-3,-2,-1,0,1,2,3,4,5,6]},
{"cat":"Mature >45 (2071)","v":4.381,"j":[-3.5,-2.5,-1.5,-0.5,0.5,1.5,2.5,3.5]},
{"cat":"Mature >45 (2071)","v":4.305,"j":[-1,0,1]},
{"cat":"Mature >45 (2071)","v":3.810,"j":[0]},
{"cat":"Mature >45 (2071)","v":3.695,"j":[0]}
]},
"transform":[{"flatten":["j"]}],
"mark":{"type":"circle","size":25,"opacity":1},
"encoding":{
"x":{"field":"cat","type":"nominal","title":"Category",
"scale":{"domain":["KG 0-6 (37)","GS 7-11 (16)","HS 12-19 (74)","Uni 20-25 (267)","Adult 26-45 (1247)","Mature >45 (2071)"],"range":[-20.5,669.5],"paddingInner":0,"paddingOuter":0},
"axis":{"labelAngle":0,"ticks":false,"domain":false,"grid":false,"labelFont":"DejaVu Sans","labelFontSize":10.5,"labelColor":"#333333","labelPadding":8,"titleFont":"DejaVu Sans","titleFontSize":11.5,"titleFontWeight":"normal","titleColor":"#333333","titlePadding":11}},
"xOffset":{"field":"j","type":"quantitative","scale":{"domain":[-12.234,12.234],"range":[0,115]}},
"y":{"field":"v","type":"quantitative","title":null,
"scale":{"domain":[3.371,9.3905],"nice":false,"zero":false},
"axis":{"values":[4,6,8],"grid":true,"gridColor":"#f4f4f4","labels":false,"ticks":false,"domain":false,"title":null}},
"color":{"field":"cat","type":"nominal","legend":null,
"scale":{"domain":["KG 0-6 (37)","GS 7-11 (16)","HS 12-19 (74)","Uni 20-25 (267)","Adult 26-45 (1247)","Mature >45 (2071)"],"range":["#4169b3","#e27a3c","#4fb450","#c7334e","#7b67c1","#957255"]}}
}
},
{
"data":{"values":[{"t":"banner"}]},
"mark":{"type":"point","shape":"M-1,-0.0847H1V0.0847H-1Z","size":35721,"filled":true,"opacity":1,"color":"#2b2f36"},
"encoding":{"x":{"datum":"GS 7-11 (16)","type":"nominal"},"xOffset":{"datum":-5.21,"type":"quantitative"},"y":{"datum":8.743,"type":"quantitative"}}
},
{
"data":{"values":[{"t":"DOC CHRISTIAN DROSTEN"}]},
"mark":{"type":"text","align":"left","baseline":"middle","font":"Open Sans","fontSize":11,"fontWeight":"bold","fontStyle":"italic","color":"#ffffff"},
"encoding":{"x":{"datum":"KG 0-6 (37)","type":"nominal"},"xOffset":{"datum":0.06,"type":"quantitative"},"y":{"datum":8.743,"type":"quantitative"},"text":{"field":"t"}}
},
{
"data":{"values":[{"t":"TWITTER"}]},
"mark":{"type":"text","align":"left","baseline":"middle","font":"Open Sans","fontSize":10,"fontStyle":"italic","color":"#dddddd"},
"encoding":{"x":{"datum":"GS 7-11 (16)","type":"nominal"},"xOffset":{"datum":5.96,"type":"quantitative"},"y":{"datum":8.743,"type":"quantitative"},"text":{"field":"t"}}
},
{
"data":{"values":[{"t":"canal"}]},
"mark":{"type":"point","shape":"M-1,-0.204H1V0.204H-1Z","size":2401,"filled":true,"opacity":1,"color":"#0a0a0a"},
"encoding":{"x":{"datum":"Mature >45 (2071)","type":"nominal"},"xOffset":{"datum":-5.21,"type":"quantitative"},"y":{"datum":8.914,"type":"quantitative"}}
},
{
"data":{"values":[{"t":"CANAL"}]},
"mark":{"type":"text","align":"left","baseline":"middle","font":"Open Sans","fontSize":10,"fontWeight":"bold","fontStyle":"italic","color":"#c9d3f2"},
"encoding":{"x":{"datum":"Mature >45 (2071)","type":"nominal"},"xOffset":{"datum":-9.9,"type":"quantitative"},"y":{"datum":8.914,"type":"quantitative"},"text":{"field":"t"}}
},
{
"data":{"values":[{"t":"+"}]},
"mark":{"type":"text","align":"left","baseline":"middle","font":"Open Sans","fontSize":11,"fontWeight":"bold","color":"#e0203a"},
"encoding":{"x":{"datum":"Mature >45 (2071)","type":"nominal"},"xOffset":{"datum":-2.4,"type":"quantitative"},"y":{"datum":8.914,"type":"quantitative"},"text":{"field":"t"}}
},
{
"data":{"values":[{"t":"L'INFO"}]},
"mark":{"type":"text","align":"center","baseline":"middle","font":"Open Sans","fontSize":11.5,"fontWeight":"bold","color":"#1b2440"},
"encoding":{"x":{"datum":"KG 0-6 (37)","type":"nominal"},"xOffset":{"datum":11.9,"type":"quantitative"},"y":{"datum":3.343,"type":"quantitative"},"text":{"field":"t"}}
},
{
"data":{"values":[{"t":"DU"}]},
"mark":{"type":"text","align":"center","baseline":"middle","font":"Open Sans","fontSize":6,"fontWeight":"bold","color":"#1b2440"},
"encoding":{"x":{"datum":"KG 0-6 (37)","type":"nominal"},"xOffset":{"datum":8.5,"type":"quantitative"},"y":{"datum":3.124,"type":"quantitative"},"text":{"field":"t"}}
},
{
"data":{"values":[{"t":"VRAI"}]},
"mark":{"type":"text","align":"center","baseline":"middle","font":"Open Sans","fontSize":13,"fontWeight":"bold","color":"#1a5fc8"},
"encoding":{"x":{"datum":"KG 0-6 (37)","type":"nominal"},"xOffset":{"datum":13.4,"type":"quantitative"},"y":{"datum":3.067,"type":"quantitative"},"text":{"field":"t"}}
}
]
}
